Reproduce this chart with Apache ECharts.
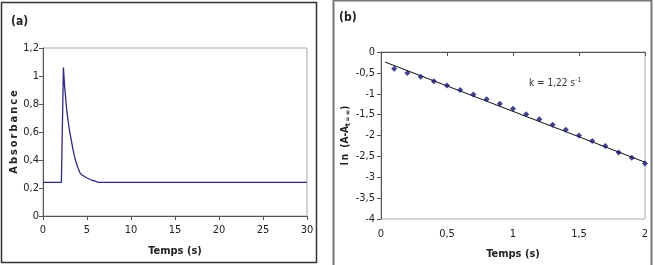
<!DOCTYPE html>
<html><head><meta charset="utf-8">
<script src="https://cdn.jsdelivr.net/npm/echarts@6/dist/echarts.min.js"></script>
<style>html,body{margin:0;padding:0;background:#fff}#c{width:655px;height:265px}</style>
</head><body><div id="c"></div>
<script>
// (a) absorbance vs time
const absTime = [0, 2.09, 2.32, 2.45, 2.66, 2.85, 3.04, 3.25, 3.42, 3.6, 3.8, 4.0, 4.18, 4.4, 4.56, 4.94, 5.5, 5.9, 6.0, 6.27, 10, 15, 20, 25, 30];
const absValue = [0.24, 0.24, 1.06, 0.93, 0.78, 0.68, 0.60, 0.53, 0.47, 0.42, 0.375, 0.34, 0.31, 0.295, 0.285, 0.273, 0.257, 0.25, 0.245, 0.24, 0.24, 0.24, 0.24, 0.24, 0.24];
const absXTicks = [0, 5, 10, 15, 20, 25, 30];
const absYTicks = [0, 0.2, 0.4, 0.6, 0.8, 1, 1.2];
// (b) ln(A - A_inf) vs time
const lnTime = [0.1, 0.2, 0.3, 0.4, 0.5, 0.6, 0.7, 0.8, 0.9, 1.0, 1.1, 1.2, 1.3, 1.4, 1.5, 1.6, 1.7, 1.8, 1.9, 2.0];
const lnValue = [-0.40, -0.50, -0.59, -0.70, -0.80, -0.91, -1.02, -1.13, -1.24, -1.36, -1.49, -1.61, -1.74, -1.86, -2.00, -2.13, -2.25, -2.41, -2.53, -2.67];
const fitTime = [0.03, 2.0];
const fitValue = [-0.24, -2.64];
const lnXTicks = [0, 0.5, 1, 1.5, 2];
const lnYTicks = [-4, -3.5, -3, -2.5, -2, -1.5, -1, -0.5, 0];
const kLabel = 'k = 1,22 s';

const FONT = '"Liberation Sans Narrow","DejaVu Sans Condensed","Liberation Sans",sans-serif';
const fmt = v => String(Math.round(v * 10) / 10).replace('.', ',');
const axisCommon = {
  axisLine: {show: true, lineStyle: {color: '#555', width: 1}},
  axisTick: {show: true, inside: false, length: 4, lineStyle: {color: '#555'}},
  splitLine: {show: false},
  axisLabel: {fontFamily: FONT, fontSize: 11, color: '#222', formatter: fmt},
  nameTextStyle: {fontFamily: FONT, fontSize: 11, fontWeight: 'bold', color: '#222'}
};

const chart = echarts.init(document.getElementById('c'));
chart.setOption({
  animation: false,
  backgroundColor: '#fff',
  grid: [
    {left: 43, top: 48, width: 264, height: 168, show: true, borderColor: '#aaa', borderWidth: 1, backgroundColor: 'transparent'},
    {left: 381, top: 52, width: 264, height: 167, show: true, borderColor: '#aaa', borderWidth: 1, backgroundColor: 'transparent'}
  ],
  xAxis: [
    Object.assign({}, axisCommon, {gridIndex: 0, type: 'value', min: absXTicks[0], max: absXTicks[absXTicks.length - 1], interval: 5,
      name: 'Temps (s)', nameLocation: 'middle', nameGap: 30, axisLabel: Object.assign({}, axisCommon.axisLabel, {margin: 9})}),
    Object.assign({}, axisCommon, {gridIndex: 1, type: 'value', min: lnXTicks[0], max: lnXTicks[lnXTicks.length - 1], interval: 0.5,
      name: 'Temps (s)', nameLocation: 'middle', nameGap: 30, axisLabel: Object.assign({}, axisCommon.axisLabel, {margin: 10})})
  ],
  yAxis: [
    Object.assign({}, axisCommon, {gridIndex: 0, type: 'value', min: absYTicks[0], max: absYTicks[absYTicks.length - 1], interval: 0.2,
      name: 'A\u2009b\u2009s\u2009o\u2009r\u2009b\u2009a\u2009n\u2009c\u2009e', nameLocation: 'middle', nameGap: 16,
      axisLabel: Object.assign({}, axisCommon.axisLabel, {margin: 4})}),
    Object.assign({}, axisCommon, {gridIndex: 1, type: 'value', min: lnYTicks[0], max: lnYTicks[lnYTicks.length - 1], interval: 0.5,
      name: '{t|l\u2009n  (A-A}{s|t\u2009=\u2009∞}{t|)}', nameLocation: 'middle', nameGap: 24,
      nameTextStyle: {fontFamily: FONT, fontSize: 11, fontWeight: 'bold', color: '#222',
        rich: {t: {fontFamily: FONT, fontSize: 10, fontWeight: 'bold', color: '#222'},
               s: {fontFamily: FONT, fontSize: 7, color: '#222', padding: [6, 0, 0, 0]}}},
      axisLabel: Object.assign({}, axisCommon.axisLabel, {margin: 6})})
  ],
  series: [
    {type: 'line', xAxisIndex: 0, yAxisIndex: 0, data: absTime.map((t, i) => [t, absValue[i]]),
      showSymbol: false, lineStyle: {color: '#2a2a80', width: 1.3}},
    {type: 'scatter', xAxisIndex: 1, yAxisIndex: 1, data: lnTime.map((t, i) => [t, lnValue[i]]),
      symbol: 'diamond', symbolSize: 6, itemStyle: {color: '#14146e'}, z: 3},
    {type: 'line', xAxisIndex: 1, yAxisIndex: 1, data: fitTime.map((t, i) => [t, fitValue[i]]),
      showSymbol: false, lineStyle: {color: '#111', width: 1}, z: 2}
  ],
  graphic: [
    {type: 'rect', shape: {x: 1.5, y: 2.5, width: 315, height: 260}, style: {fill: 'none', stroke: '#333', lineWidth: 1.5}, silent: true},
    {type: 'rect', shape: {x: 333.5, y: 0.5, width: 318, height: 268}, style: {fill: 'none', stroke: '#777', lineWidth: 2}, silent: true},
    {type: 'text', left: 11, top: 16, style: {text: '(a)', font: 'bold 12px ' + FONT, fill: '#222'}},
    {type: 'text', left: 339, top: 12, style: {text: '(b)', font: 'bold 12px ' + FONT, fill: '#222'}},
    {type: 'text', left: 529, top: 77, style: {text: '{t|' + kLabel + '}{u|-1}',
      rich: {t: {fontFamily: FONT, fontSize: 10, fill: '#333'}, u: {fontFamily: FONT, fontSize: 7, fill: '#333', padding: [0, 0, 6, 0]}}}}
  ]
});
</script></body></html>
